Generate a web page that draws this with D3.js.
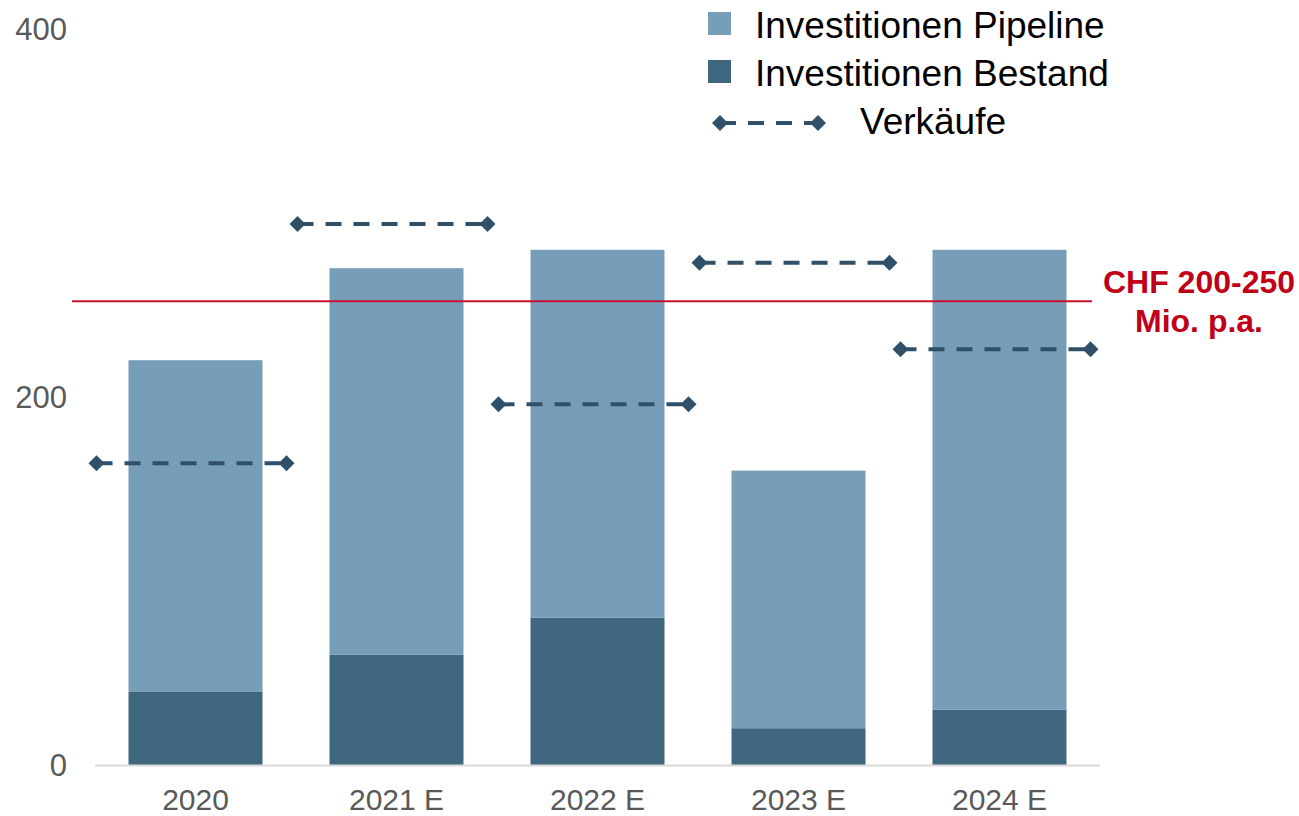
<!DOCTYPE html>
<html>
<head>
<meta charset="utf-8">
<script src="https://cdn.jsdelivr.net/npm/d3@7"></script>
<style>
  html, body { margin: 0; padding: 0; background: #fff; }
  svg { display: block; font-family: "Liberation Sans", Arial, sans-serif; }
</style>
</head>
<body>
<svg id="chart" width="1299" height="816"></svg>
<script>
// chart data
const categories = ['2020', '2021 E', '2022 E', '2023 E', '2024 E'];
const bestand = [40, 60, 80, 20, 30];
const pipeline = [180, 210, 200, 140, 250];
const verkaeufe = [164, 294, 196, 273, 226];
const yTicks = [0, 200, 400];
const targetValue = 252;
const targetLabel = ['CHF 200-250', 'Mio. p.a.'];
const legendItems = ['Investitionen Pipeline', 'Investitionen Bestand', 'Verkäufe'];

const COL_PIPE = '#769EB8';
const COL_BEST = '#3F6880';
const COL_LINE = '#2F5068';
const COL_RED = '#C8102E';

const svg = d3.select('#chart');

const x = d3.scaleBand()
  .domain(categories)
  .range([95, 1100])
  .paddingInner(1 / 3)
  .paddingOuter(1 / 6);

const y = d3.scaleLinear().domain([0, 400]).range([765, 29]);

// y tick labels (no axis line)
svg.append('g')
  .selectAll('text')
  .data(yTicks)
  .join('text')
  .attr('x', 67)
  .attr('y', d => y(d))
  .attr('dy', '0.35em')
  .attr('text-anchor', 'end')
  .attr('fill', '#595959')
  .attr('font-size', 31)
  .text(d => d);

// stacked bars
const stack = d3.stack().keys(['bestand', 'pipeline']);
const rows = categories.map((c, i) => ({ cat: c, bestand: bestand[i], pipeline: pipeline[i] }));
const series = stack(rows);
const colors = { bestand: COL_BEST, pipeline: COL_PIPE };

svg.append('g')
  .selectAll('g')
  .data(series)
  .join('g')
  .attr('fill', d => colors[d.key])
  .selectAll('rect')
  .data(d => d)
  .join('rect')
  .attr('x', d => x(d.data.cat))
  .attr('width', x.bandwidth())
  .attr('y', d => y(d[1]))
  .attr('height', d => y(d[0]) - y(d[1]));

// x axis baseline
svg.append('line')
  .attr('x1', 95).attr('x2', 1100)
  .attr('y1', y(0) + 0.5).attr('y2', y(0) + 0.5)
  .attr('stroke', '#D9D9D9')
  .attr('stroke-width', 2);

// x labels
svg.append('g')
  .selectAll('text')
  .data(categories)
  .join('text')
  .attr('x', d => x(d) + x.bandwidth() / 2)
  .attr('y', 810)
  .attr('text-anchor', 'middle')
  .attr('fill', '#595959')
  .attr('font-size', 30)
  .text(d => d);

// target line
svg.append('line')
  .attr('x1', 72).attr('x2', 1092)
  .attr('y1', y(targetValue)).attr('y2', y(targetValue))
  .attr('stroke', COL_RED)
  .attr('stroke-width', 2);

svg.append('text')
  .attr('x', 1199)
  .attr('y', 293)
  .attr('text-anchor', 'middle')
  .attr('fill', '#C00018')
  .attr('font-size', 32)
  .attr('font-weight', 'bold')
  .selectAll('tspan')
  .data(targetLabel)
  .join('tspan')
  .attr('x', 1199)
  .attr('dy', (d, i) => i === 0 ? 0 : 39)
  .text(d => d);

// Verkäufe segments
const diamond = 'M0,-8L8,0L0,8L-8,0Z';
const segs = categories.map((c, i) => ({
  x1: x(c) - 32,
  x2: x(c) + x.bandwidth() + 24,
  y: y(verkaeufe[i])
}));

const segG = svg.append('g');
segG.selectAll('line')
  .data(segs)
  .join('line')
  .attr('x1', d => d.x1).attr('x2', d => d.x2)
  .attr('y1', d => d.y).attr('y2', d => d.y)
  .attr('stroke', COL_LINE)
  .attr('stroke-width', 4)
  .attr('stroke-dasharray', '16,12');

segG.selectAll('path')
  .data(segs.flatMap(d => [[d.x1, d.y], [d.x2, d.y]]))
  .join('path')
  .attr('d', diamond)
  .attr('transform', d => `translate(${d[0]},${d[1]})`)
  .attr('fill', COL_LINE);

// legend
const lg = svg.append('g');
lg.append('rect').attr('x', 708).attr('y', 12).attr('width', 23).attr('height', 23).attr('fill', COL_PIPE);
lg.append('rect').attr('x', 708).attr('y', 60).attr('width', 23).attr('height', 23).attr('fill', COL_BEST);
lg.append('line')
  .attr('x1', 720).attr('x2', 818)
  .attr('y1', 123).attr('y2', 123)
  .attr('stroke', COL_LINE)
  .attr('stroke-width', 4)
  .attr('stroke-dasharray', '16,12');
lg.selectAll('path')
  .data([720, 818])
  .join('path')
  .attr('d', diamond)
  .attr('transform', d => `translate(${d},123)`)
  .attr('fill', COL_LINE);

lg.selectAll('text')
  .data(legendItems)
  .join('text')
  .attr('x', (d, i) => i === 2 ? 860 : 755)
  .attr('y', (d, i) => [38, 86, 134][i])
  .attr('fill', '#000')
  .attr('font-size', 37)
  .text(d => d);
</script>
</body>
</html>
